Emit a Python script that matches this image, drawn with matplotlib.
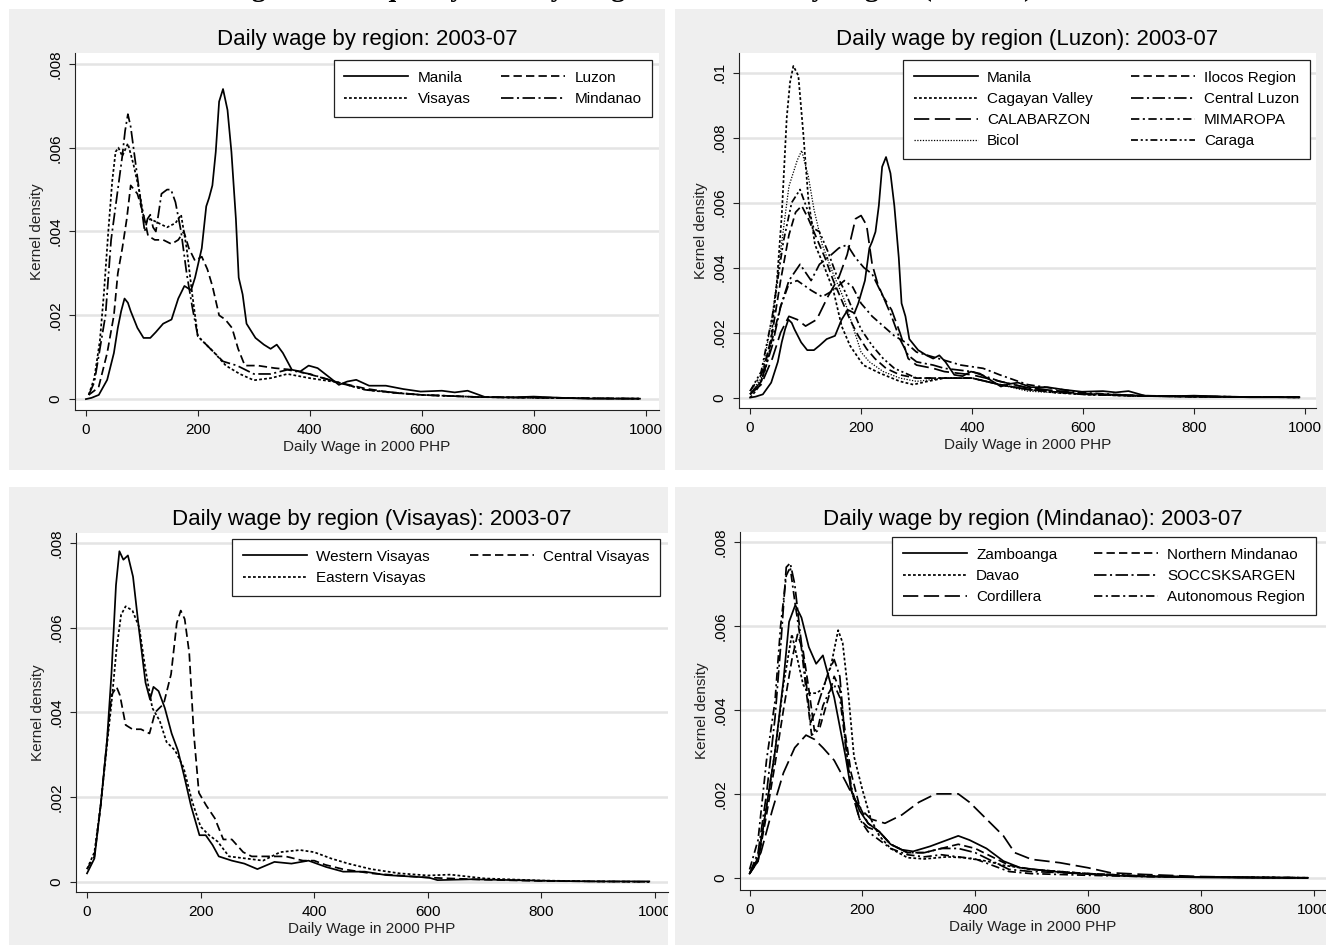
import matplotlib
matplotlib.use('Agg')
import matplotlib.pyplot as plt
from matplotlib.patches import Rectangle
from matplotlib.transforms import Bbox, TransformedBbox

W, H = 1326, 947

# ---- data (wage in 2000 PHP, kernel density) ----
# all regions
manila_x = [0, 10, 23, 38, 50, 57, 63, 69, 75, 80, 92, 103, 115, 125, 138, 153, 165, 176, 188, 195,
            207, 215, 220, 226, 232, 238, 245, 253, 260, 268, 273, 280, 287, 303, 318, 330, 341, 352, 368, 383,
            398, 414, 437, 452, 467, 483, 506, 536, 567, 598, 636, 659, 682, 713, 760, 800, 850, 900, 950, 990]
manila_y = [0.0, 0.00003, 0.0001, 0.00046, 0.0011, 0.0017, 0.0021, 0.0024, 0.0023, 0.0021,
            0.0017, 0.00146, 0.00146, 0.0016, 0.0018, 0.0019, 0.0024, 0.0027, 0.0026, 0.0029,
            0.0036, 0.0046, 0.0048, 0.0051, 0.0059, 0.0071, 0.0074, 0.0069, 0.0059, 0.0043,
            0.0029, 0.0025, 0.0018, 0.00146, 0.0013, 0.0012, 0.0013, 0.0011, 0.0007, 0.00066,
            0.0008, 0.00074, 0.0005, 0.00034, 0.00042, 0.00046, 0.00032, 0.00032, 0.00024, 0.00018,
            0.0002, 0.00016, 0.0002, 0.00005, 0.00004, 0.00006, 0.00003, 0.00001, 0.00001, 0.00001]
luzon_x = [5, 15, 23, 38, 50, 57, 65, 73, 80, 92, 103, 111, 123, 138, 153, 165, 175, 184, 195, 207,
           217, 226, 238, 249, 261, 272, 284, 307, 337, 368, 398, 450, 500, 550, 600, 700, 800, 900, 990]
luzon_y = [0.0001, 0.0002, 0.0003, 0.0011, 0.002, 0.003, 0.0036, 0.0043, 0.0051, 0.0049,
           0.0044, 0.0039, 0.0038, 0.0038, 0.0037, 0.0038, 0.004, 0.0036, 0.0033, 0.0034,
           0.0031, 0.0027, 0.002, 0.0019, 0.0017, 0.0012, 0.0008, 0.0008, 0.00074, 0.0007,
           0.0006, 0.0004, 0.00025, 0.00015, 0.0001, 0.00005, 0.00004, 0.00002, 0.00001]
visayas_x = [5, 15, 25, 32, 40, 47, 53, 58, 65, 75, 85, 95, 105, 115, 130, 145, 160, 170, 180, 190,
             200, 215, 230, 250, 275, 300, 330, 360, 400, 450, 500, 550, 600, 700, 800, 900, 990]
visayas_y = [0.0001, 0.0005, 0.0014, 0.0025, 0.004, 0.0052, 0.0059, 0.006, 0.0058, 0.0061,
             0.0056, 0.005, 0.0042, 0.0043, 0.0042, 0.0041, 0.0042, 0.0044, 0.0036, 0.0025,
             0.0015, 0.0013, 0.0011, 0.0008, 0.0006, 0.00045, 0.0005, 0.0006, 0.0005, 0.0004,
             0.00022, 0.00015, 0.0001, 0.00005, 0.00003, 0.00002, 0.00001]
mindanao_x = [5, 15, 25, 35, 45, 55, 65, 70, 75, 80, 85, 95, 105, 110, 115, 120, 125, 135, 145, 152,
              160, 170, 180, 190, 200, 215, 230, 245, 270, 300, 330, 360, 400, 450, 500, 600, 700, 800, 900, 990]
mindanao_y = [0.0001, 0.0004, 0.0012, 0.002, 0.0038, 0.0048, 0.0058, 0.0064, 0.0068, 0.0065,
              0.006, 0.005, 0.004, 0.0043, 0.0044, 0.0041, 0.004, 0.0049, 0.005, 0.005,
              0.0047, 0.004, 0.003, 0.0022, 0.0015, 0.0013, 0.0011, 0.0009, 0.0008, 0.0006,
              0.0006, 0.0007, 0.0006, 0.0004, 0.00022, 0.0001, 0.00005, 0.00003, 0.00002, 0.00001]

# Luzon regions
ilocos_x = [0, 20, 40, 55, 70, 82, 93, 105, 120, 135, 150, 165, 180, 195, 210, 225, 245, 270, 300, 350,
            400, 450, 500, 600, 700, 800, 900, 990]
ilocos_y = [0.0001, 0.0005, 0.002, 0.0036, 0.005, 0.0057, 0.0059, 0.0055, 0.0049, 0.0043,
            0.0036, 0.003, 0.0024, 0.0019, 0.0015, 0.0012, 0.0009, 0.0007, 0.0006, 0.0006,
            0.0006, 0.0004, 0.00025, 0.0001, 0.00005, 0.00003, 0.00002, 0.00001]
cagayan_x = [0, 10, 18, 28, 36, 48, 57, 66, 72, 78, 87, 96, 105, 117, 132, 150, 165, 180, 204, 234,
             270, 294, 320, 350, 400, 450, 500, 550, 600, 700, 800, 900, 990]
cagayan_y = [0.0, 0.0002, 0.0004, 0.0009, 0.0015, 0.0035, 0.0056, 0.0086, 0.0097, 0.0102,
             0.0099, 0.0081, 0.0061, 0.0047, 0.0041, 0.0033, 0.0022, 0.0016, 0.001, 0.00075,
             0.0005, 0.0004, 0.0005, 0.0006, 0.0006, 0.0004, 0.00025, 0.00015, 0.0001, 0.00005,
             0.00003, 0.00002, 0.00001]
central_luzon_x = [0, 20, 40, 55, 70, 90, 110, 125, 140, 160, 175, 190, 205, 220, 240, 255, 270, 285, 300, 330,
                   350, 400, 450, 500, 600, 700, 800, 900, 990]
central_luzon_y = [0.0001, 0.0005, 0.0016, 0.0028, 0.0036, 0.0041, 0.0036, 0.0041, 0.0043, 0.0046,
                   0.0047, 0.0043, 0.004, 0.0038, 0.0031, 0.0025, 0.0018, 0.0013, 0.0011, 0.001,
                   0.0009, 0.0008, 0.0005, 0.0003, 0.00012, 0.00006, 0.00003, 0.00002, 0.00001]
calabarzon_x = [0, 20, 40, 55, 70, 85, 100, 120, 140, 160, 175, 190, 200, 210, 220, 230, 240, 255, 270, 285,
                300, 330, 350, 400, 450, 500, 600, 700, 800, 900, 990]
calabarzon_y = [0.0001, 0.0004, 0.0012, 0.002, 0.0025, 0.0024, 0.0022, 0.0024, 0.0031, 0.0037,
                0.0044, 0.0055, 0.0056, 0.0053, 0.0041, 0.0035, 0.0031, 0.0027, 0.002, 0.0012,
                0.001, 0.0009, 0.0008, 0.0007, 0.0005, 0.0003, 0.00012, 0.00006, 0.00004, 0.00002, 0.00001]
mimaropa_x = [0, 20, 40, 55, 70, 85, 110, 130, 150, 170, 185, 200, 220, 240, 260, 280, 300, 340, 380, 420,
              450, 500, 600, 700, 800, 900, 990]
mimaropa_y = [0.0002, 0.0007, 0.0018, 0.0028, 0.0035, 0.0036, 0.0033, 0.0031, 0.0033, 0.0036,
              0.0034, 0.0029, 0.0025, 0.0022, 0.0019, 0.0017, 0.0014, 0.0012, 0.001, 0.0009,
              0.0007, 0.0004, 0.00015, 0.00006, 0.00003, 0.00002, 0.00001]
bicol_x = [0, 20, 40, 55, 70, 85, 93, 105, 115, 130, 150, 170, 185, 200, 215, 240, 270, 300, 350, 400,
           450, 500, 600, 700, 800, 900, 990]
bicol_y = [0.0001, 0.0006, 0.0025, 0.0045, 0.0065, 0.0073, 0.0076, 0.0068, 0.0058, 0.0047,
           0.0038, 0.003, 0.0022, 0.0014, 0.0011, 0.0008, 0.0006, 0.0005, 0.0006, 0.0006,
           0.0004, 0.0002, 0.0001, 0.00005, 0.00003, 0.00002, 0.00001]
caraga_x = [0, 20, 40, 60, 75, 90, 105, 115, 125, 140, 155, 170, 185, 200, 220, 240, 260, 300, 350, 400,
            450, 500, 600, 700, 800, 900, 990]
caraga_y = [0.0002, 0.0008, 0.0025, 0.0048, 0.006, 0.0064, 0.0057, 0.0052, 0.0051, 0.0045,
            0.0038, 0.0033, 0.0027, 0.0021, 0.0016, 0.0012, 0.0009, 0.0006, 0.0006, 0.0006,
            0.0004, 0.00025, 0.0001, 0.00005, 0.00003, 0.00002, 0.00001]

# Visayas regions
western_vis_x = [0, 13, 24, 35, 43, 51, 57, 64, 72, 81, 92, 103, 111, 117, 126, 137, 149, 160, 171, 183,
                 198, 209, 221, 232, 255, 277, 300, 330, 360, 390, 421, 451, 489, 526, 602, 617, 677, 753, 828, 900, 990]
western_vis_y = [0.0002, 0.00055, 0.0018, 0.0033, 0.0049, 0.007, 0.0078, 0.0076, 0.0077, 0.0072,
                 0.0059, 0.0047, 0.0043, 0.0046, 0.0045, 0.0041, 0.0035, 0.0031, 0.0025, 0.0018,
                 0.0011, 0.0011, 0.00087, 0.0006, 0.0005, 0.00043, 0.0003, 0.00047, 0.00043, 0.0005,
                 0.00035, 0.00024, 0.00024, 0.00016, 0.0001, 0.00004, 0.00006, 0.00004, 0.00002, 0.00001, 0.00001]
central_vis_x = [0, 13, 24, 35, 43, 52, 58, 68, 80, 95, 110, 120, 135, 148, 158, 165, 172, 180, 188, 197,
                 210, 225, 240, 255, 275, 290, 320, 350, 380, 400, 420, 450, 500, 600, 700, 800, 900, 990]
central_vis_y = [0.0003, 0.0006, 0.0018, 0.0033, 0.0044, 0.0046, 0.0044, 0.0037, 0.0036, 0.0036,
                 0.0035, 0.004, 0.0042, 0.0049, 0.0061, 0.0064, 0.0062, 0.0054, 0.0035, 0.0021,
                 0.0018, 0.0015, 0.001, 0.001, 0.0007, 0.0006, 0.0006, 0.0006, 0.0005, 0.0005,
                 0.0004, 0.0003, 0.0002, 0.0001, 0.00005, 0.00002, 0.00001, 0.0]
eastern_vis_x = [0, 13, 24, 35, 43, 52, 60, 68, 80, 92, 103, 115, 128, 140, 155, 170, 185, 200, 215, 230,
                 250, 280, 310, 340, 375, 400, 430, 460, 500, 550, 600, 640, 700, 800, 900, 990]
eastern_vis_y = [0.0003, 0.0007, 0.0018, 0.0032, 0.0042, 0.0055, 0.0063, 0.0065, 0.0064, 0.006,
                 0.005, 0.0041, 0.0038, 0.0033, 0.0031, 0.0027, 0.0019, 0.0013, 0.0011, 0.00095,
                 0.0006, 0.00055, 0.0005, 0.0007, 0.00075, 0.0007, 0.00055, 0.00043, 0.0003, 0.0002,
                 0.00015, 0.00017, 0.00008, 0.00003, 0.00001, 0.0]

# Mindanao regions
zamboanga_x = [0, 15, 30, 45, 60, 70, 81, 92, 105, 118, 130, 140, 150, 160, 170, 180, 195, 210, 230, 250,
               270, 290, 320, 350, 370, 390, 420, 450, 480, 520, 560, 600, 650, 700, 800, 900, 990]
zamboanga_y = [0.0001, 0.0004, 0.0017, 0.003, 0.0047, 0.0061, 0.0065, 0.0062, 0.0055, 0.0051,
               0.0053, 0.0048, 0.0043, 0.0036, 0.0029, 0.0021, 0.0016, 0.0013, 0.0011, 0.0008,
               0.00067, 0.00063, 0.00075, 0.0009, 0.001, 0.0009, 0.0007, 0.0004, 0.00024, 0.00018,
               0.00012, 0.00009, 0.00005, 0.00003, 0.00001, 0.0, 0.0]
north_min_x = [0, 15, 30, 45, 60, 75, 85, 95, 105, 115, 125, 140, 150, 160, 170, 180, 195, 210, 230, 250,
               280, 310, 340, 370, 400, 430, 460, 500, 600, 700, 800, 900, 990]
north_min_y = [0.0001, 0.0004, 0.0015, 0.0027, 0.004, 0.0052, 0.0058, 0.0054, 0.0045, 0.0035,
               0.0036, 0.0043, 0.0048, 0.0045, 0.0034, 0.0025, 0.0017, 0.0013, 0.0011, 0.0008,
               0.0006, 0.0006, 0.0007, 0.0008, 0.0007, 0.0005, 0.0003, 0.0002, 0.0001, 0.00004,
               0.00002, 0.00001, 0.0]
davao_x = [0, 15, 30, 45, 60, 75, 85, 95, 105, 118, 130, 145, 157, 165, 175, 185, 200, 215, 230, 250,
           280, 310, 350, 380, 420, 450, 500, 600, 700, 800, 900, 990]
davao_y = [0.0001, 0.0005, 0.0017, 0.003, 0.0046, 0.0058, 0.0052, 0.0046, 0.0044, 0.0044,
           0.0045, 0.0051, 0.0059, 0.0056, 0.0044, 0.0029, 0.0021, 0.0014, 0.001, 0.0007,
           0.00048, 0.00045, 0.0005, 0.00048, 0.0004, 0.0003, 0.0002, 0.0001, 0.00004, 0.00002,
           0.00001, 0.0]
soccsk_x = [0, 15, 30, 45, 55, 65, 72, 80, 90, 100, 108, 118, 130, 140, 150, 160, 170, 180, 195, 210,
            230, 250, 280, 310, 340, 370, 400, 430, 460, 500, 600, 700, 800, 900, 990]
soccsk_y = [0.0001, 0.0006, 0.002, 0.0038, 0.0055, 0.0074, 0.0075, 0.007, 0.0058, 0.0047,
            0.0037, 0.004, 0.0045, 0.0049, 0.0052, 0.0048, 0.0032, 0.0021, 0.0014, 0.0012,
            0.0011, 0.0008, 0.0006, 0.0006, 0.0007, 0.0007, 0.0006, 0.0004, 0.0002, 0.00015,
            0.0001, 0.00004, 0.00002, 0.00001, 0.0]
cordillera_x = [0, 20, 40, 60, 80, 100, 115, 130, 150, 170, 185, 200, 215, 240, 270, 300, 330, 350, 370, 390,
                420, 450, 470, 500, 550, 600, 640, 700, 800, 900, 990]
cordillera_y = [0.0001, 0.0006, 0.0016, 0.0025, 0.0031, 0.0034, 0.0033, 0.0031, 0.0028, 0.0023,
                0.0019, 0.0016, 0.0014, 0.0013, 0.0015, 0.0018, 0.002, 0.002, 0.002, 0.0018,
                0.0014, 0.001, 0.0006, 0.00044, 0.00036, 0.00024, 0.00012, 0.00008, 0.00003, 0.00001, 0.0]
armm_x = [0, 15, 30, 45, 55, 65, 72, 80, 90, 100, 110, 120, 130, 140, 150, 160, 170, 180, 195, 210,
          230, 250, 280, 310, 340, 370, 400, 430, 460, 500, 600, 700, 800, 900, 990]
armm_y = [0.0002, 0.0009, 0.0028, 0.0042, 0.006, 0.0072, 0.0074, 0.0066, 0.0057, 0.0045,
          0.0034, 0.0035, 0.0041, 0.0044, 0.0046, 0.0043, 0.0032, 0.0022, 0.0014, 0.0011,
          0.0009, 0.0007, 0.00055, 0.0005, 0.00055, 0.0005, 0.00045, 0.0003, 0.00015, 0.0001,
          0.00006, 0.00003, 0.00002, 0.00001, 0.0]

xticks = [0, 200, 400, 600, 800, 1000]
yticks_8 = [0, 0.002, 0.004, 0.006, 0.008]
ylabels_8 = ['0', '.002', '.004', '.006', '.008']
yticks_10 = [0, 0.002, 0.004, 0.006, 0.008, 0.01]
ylabels_10 = ['0', '.002', '.004', '.006', '.008', '.01']

# line patterns (points)
SOLID = '-'
DASH = (0, (6, 3))
DOT = (0, (2, 1.6))
DASHDOT = (0, (9, 2.5, 1.5, 2.5))
LONGDASH = (0, (11, 4))
FINEDOT = (0, (0.9, 1.1))
SHORTDASHDOT = (0, (6, 2.5, 1.5, 2.5))
DASHDOTDOT = (0, (5, 2, 1.5, 2, 1.5, 2))

plt.rcParams['font.family'] = ['Liberation Sans', 'DejaVu Sans']
plt.rcParams['lines.scale_dashes'] = False

fig = plt.figure(figsize=(W / 100, H / 100), dpi=100)
fig.patch.set_facecolor('white')


def px_box(x0, y0, x1, y1):
    return [x0 / W, 1 - y1 / H, (x1 - x0) / W, (y1 - y0) / H]


def panel(bg, box, xlim, ylim, yt, ytl, title, series, leg_corner, colspace=2.3):
    fig.patches.append(Rectangle((bg[0] / W, 1 - bg[3] / H), (bg[2] - bg[0]) / W, (bg[3] - bg[1]) / H,
                                 transform=fig.transFigure, facecolor='#efefef', edgecolor='none', zorder=-5))
    ax = fig.add_axes(px_box(*box))
    ax.set_facecolor('white')
    handles = []
    for label, xs, ys, ls, lw in series:
        h, = ax.plot(xs, ys, color='black', linestyle=ls, linewidth=lw, label=label)
        handles.append(h)
    ax.set_xlim(*xlim)
    ax.set_ylim(*ylim)
    ax.set_xticks(xticks)
    ax.set_yticks(yt, ytl)
    ax.yaxis.grid(True, color='#e4e4e4', linewidth=1.8)
    ax.set_axisbelow(True)
    for s in ('top', 'right'):
        ax.spines[s].set_visible(False)
    for s in ('left', 'bottom'):
        ax.spines[s].set_color('#222222')
        ax.spines[s].set_linewidth(0.8)
    ax.tick_params(direction='out', length=4, width=0.8, color='#222222', labelsize=11)
    ax.tick_params(axis='x', pad=5)
    ax.tick_params(axis='y', labelrotation=90, pad=5)
    for t in ax.get_yticklabels():
        t.set_va('center')
    ax.set_xlabel('Daily Wage in 2000 PHP', fontsize=11, labelpad=2.5, color='#222222')
    ax.set_ylabel('Kernel density', fontsize=11, labelpad=3, color='#222222')
    fig.text((box[0] + box[2]) / 2 / W, 1 - (box[1] - 13) / H, title, ha='center', va='center', fontsize=16)
    # legend: top-right corner given in pixels
    ax_x = (leg_corner[0] - box[0]) / (box[2] - box[0])
    ax_y = (box[3] - leg_corner[1]) / (box[3] - box[1])
    leg = ax.legend(handles=handles, ncol=2, loc='upper right', bbox_to_anchor=(ax_x, ax_y),
                    borderaxespad=0, fontsize=11, frameon=True, fancybox=False, framealpha=1,
                    edgecolor='#222222', handlelength=4.2, columnspacing=colspace, labelspacing=0.47,
                    borderpad=0.7, handletextpad=0.6)
    leg.get_frame().set_linewidth(0.9)
    clip = TransformedBbox(Bbox.from_extents(bg[0] / W, 1 - bg[3] / H, bg[2] / W, 1 - bg[1] / H), fig.transFigure)
    for t in ax.get_xticklabels():
        t.set_clip_box(clip)
        t.set_clip_on(True)
    return ax


LW = 1.25

panel((9, 9, 665, 470), (75, 53, 659, 410), (-19.5, 1024), (-0.00026, 0.00826), yticks_8, ylabels_8,
      'Daily wage by region: 2003-07',
      [('Manila', manila_x, manila_y, SOLID, LW),
       ('Visayas', visayas_x, visayas_y, DOT, LW),
       ('Luzon', luzon_x, luzon_y, DASH, LW),
       ('Mindanao', mindanao_x, mindanao_y, DASHDOT, LW)],
      (652, 60), colspace=2.0)

panel((675, 9, 1323, 470), (739, 53, 1316, 408), (-20, 1020), (-0.00032, 0.0106), yticks_10, ylabels_10,
      'Daily wage by region (Luzon): 2003-07',
      [('Manila', manila_x, manila_y, SOLID, LW),
       ('Cagayan Valley', cagayan_x, cagayan_y, DOT, LW),
       ('CALABARZON', calabarzon_x, calabarzon_y, LONGDASH, LW),
       ('Bicol', bicol_x, bicol_y, FINEDOT, 0.9),
       ('Ilocos Region', ilocos_x, ilocos_y, DASH, LW),
       ('Central Luzon', central_luzon_x, central_luzon_y, DASHDOT, LW),
       ('MIMAROPA', mimaropa_x, mimaropa_y, SHORTDASHDOT, LW),
       ('Caraga', caraga_x, caraga_y, DASHDOTDOT, LW)],
      (1310, 60), colspace=2.5)

panel((9, 487, 668, 945), (76, 533, 668, 892), (-19.4, 1023), (-0.00024, 0.00823), yticks_8, ylabels_8,
      'Daily wage by region (Visayas): 2003-07',
      [('Western Visayas', western_vis_x, western_vis_y, SOLID, LW),
       ('Eastern Visayas', eastern_vis_x, eastern_vis_y, DOT, LW),
       ('Central Visayas', central_vis_x, central_vis_y, DASH, LW)],
      (660, 539), colspace=2.6)

panel((675, 487, 1326, 945), (740, 532, 1326, 890), (-17, 1022), (-0.00029, 0.00824), yticks_8, ylabels_8,
      'Daily wage by region (Mindanao): 2003-07',
      [('Zamboanga', zamboanga_x, zamboanga_y, SOLID, LW),
       ('Davao', davao_x, davao_y, DOT, LW),
       ('Cordillera', cordillera_x, cordillera_y, LONGDASH, LW),
       ('Northern Mindanao', north_min_x, north_min_y, DASH, LW),
       ('SOCCSKSARGEN', soccsk_x, soccsk_y, DASHDOT, LW),
       ('Autonomous Region', armm_x, armm_y, SHORTDASHDOT, LW)],
      (1316, 537), colspace=2.4)

# figure caption, mostly cut off by the top edge of the image
fig.text(630 / W, 1 + 4 / H, 'Figure 3: Inequality in Daily Wage Distribution by Region (2003-07)',
         ha='center', va='baseline', fontsize=20, fontweight='bold',
         family=['Liberation Serif', 'DejaVu Serif'])

fig.savefig('out.png', dpi=100)
